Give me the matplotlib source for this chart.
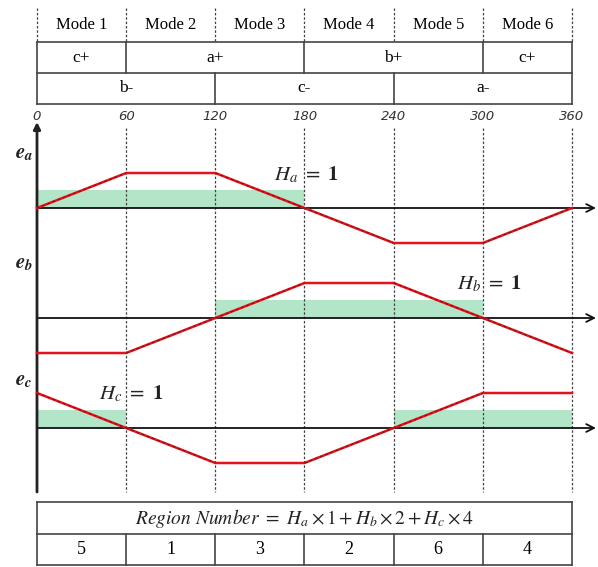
import matplotlib.pyplot as plt

plt.rcParams['mathtext.fontset'] = 'stix'

### Data
# Electrical angle breakpoints (degrees)
angles = [0, 60, 120, 180, 240, 300, 360]
# Trapezoidal back-EMF per phase, normalised to +/-1
e_a = [0, 1, 1, 0, -1, -1, 0]
e_b = [-1, -1, 0, 1, 1, 0, -1]
e_c = [1, 0, -1, -1, 0, 1, 1]
# Hall sensor high intervals (start, end) in degrees
hall_a = [(0, 180)]
hall_b = [(120, 300)]
hall_c = [(0, 60), (240, 360)]
# Commutation table
modes = ["Mode 1", "Mode 2", "Mode 3", "Mode 4", "Mode 5", "Mode 6"]
upper_switch = [("c+", 0, 60), ("a+", 60, 180), ("b+", 180, 300), ("c+", 300, 360)]
lower_switch = [("b-", 0, 120), ("c-", 120, 240), ("a-", 240, 360)]
region_numbers = [5, 1, 3, 2, 6, 4]

### Layout
K = 535 / 360          # pixels per degree
AMP = 35               # waveform amplitude (px)
HALL_H = 18            # hall band height (px)
RED = "#e3121b"
GREEN = "#b3e6c8"
GRID = "#444444"
SERIF = "Liberation Serif"

fig = plt.figure(figsize=(5.98, 5.67), dpi=100)
ax = fig.add_axes([0, 0, 1, 1])
ax.set_xlim(-37 / K, 561 / K)
ax.set_ylim(567, 0)
ax.axis("off")

# Top table: mode row (dashed separators), then switch rows
for ang in angles:
    ax.plot([ang, ang], [8, 42], color=GRID, lw=0.9, ls=(0, (2, 1.5)))
for i, m in enumerate(modes):
    ax.text(angles[i] + 30, 25, m, ha="center", va="center", fontsize=12, family=SERIF)
for y in [42, 73, 104]:
    ax.plot([0, 360], [y, y], color=GRID, lw=1.2)
ax.plot([0, 0], [42, 104], color=GRID, lw=1.2)
ax.plot([360, 360], [42, 104], color=GRID, lw=1.2)
for label, a0, a1 in upper_switch:
    ax.text((a0 + a1) / 2, 57.5, label, ha="center", va="center", fontsize=12.5, family=SERIF)
    if a0 > 0:
        ax.plot([a0, a0], [42, 73], color=GRID, lw=1.2)
for label, a0, a1 in lower_switch:
    ax.text((a0 + a1) / 2, 88.5, label, ha="center", va="center", fontsize=12.5, family=SERIF)
    if a0 > 0:
        ax.plot([a0, a0], [73, 104], color=GRID, lw=1.2)

# Angle tick labels
for ang in angles:
    ax.text(ang, 116, str(ang), ha="center", va="center", fontsize=9.5,
            style="italic", color="#333333")

# Dashed mode boundaries through the waveform area
for ang in angles[1:]:
    ax.plot([ang, ang], [128, 492], color=GRID, lw=0.9, ls=(0, (2, 1.5)))

# Vertical axis
ax.annotate("", xy=(0, 122), xytext=(0, 492),
            arrowprops=dict(arrowstyle="-|>", lw=2, color="#222222",
                            mutation_scale=10, shrinkA=0, shrinkB=0))

waves = [(e_a, hall_a, 208, r"$\mathbfit{e}_{\mathbfit{a}}$", r"$H_a\ =\ \mathbf{1}$", (274, 175)),
         (e_b, hall_b, 318, r"$\mathbfit{e}_{\mathbfit{b}}$", r"$H_b\ =\ \mathbf{1}$", (457, 284)),
         (e_c, hall_c, 428, r"$\mathbfit{e}_{\mathbfit{c}}$", r"$H_c\ =\ \mathbf{1}$", (99, 394))]

for wave, hall, base, name, hlabel, (hx, hy) in waves:
    # Hall high band
    for a0, a1 in hall:
        ax.fill_between([a0, a1], base - HALL_H, base, color=GREEN, lw=0, zorder=1)
    # Horizontal axis with arrow
    ax.annotate("", xy=(559 / K, base), xytext=(0, base),
                arrowprops=dict(arrowstyle="->", lw=1.3, color="#111111",
                                mutation_scale=14, shrinkA=0, shrinkB=0), zorder=2)
    ys = [base - AMP * v for v in wave]
    ax.plot(angles, ys, color=RED, lw=1.8, zorder=3)
    # dark dashes along the sloped segments
    for i in range(len(angles) - 1):
        if wave[i] != wave[i + 1]:
            ax.plot(angles[i:i + 2], ys[i:i + 2], color="#5a1010", lw=0.8,
                    ls=(0, (2.5, 2.5)), alpha=0.7, zorder=4)
    ax.text(-22 / K, base - 55 if base != 428 else base - 48, name,
            ha="left", va="center", fontsize=15, color="#222222", zorder=5)
    ax.text(hx / K - 37 / K + 0.3, hy, hlabel, ha="left", va="center", fontsize=15,
            color="#222222", zorder=5)

# Bottom table: region number
for y in [502, 534, 565]:
    ax.plot([0, 360], [y, y], color=GRID, lw=1.2)
ax.plot([0, 0], [502, 565], color=GRID, lw=1.2)
ax.plot([360, 360], [502, 565], color=GRID, lw=1.2)
ax.text(180, 518, r"$Region\ Number\ =\ H_a \times 1 + H_b \times 2 + H_c \times 4$",
        ha="center", va="center", fontsize=14, color="#222222")
for i, r in enumerate(region_numbers):
    ax.text(angles[i] + 30, 550, str(r), ha="center", va="center", fontsize=13, family=SERIF)
    if i > 0:
        ax.plot([angles[i], angles[i]], [534, 565], color=GRID, lw=1.2)

plt.savefig("out.png", dpi=100)
plt.close()
